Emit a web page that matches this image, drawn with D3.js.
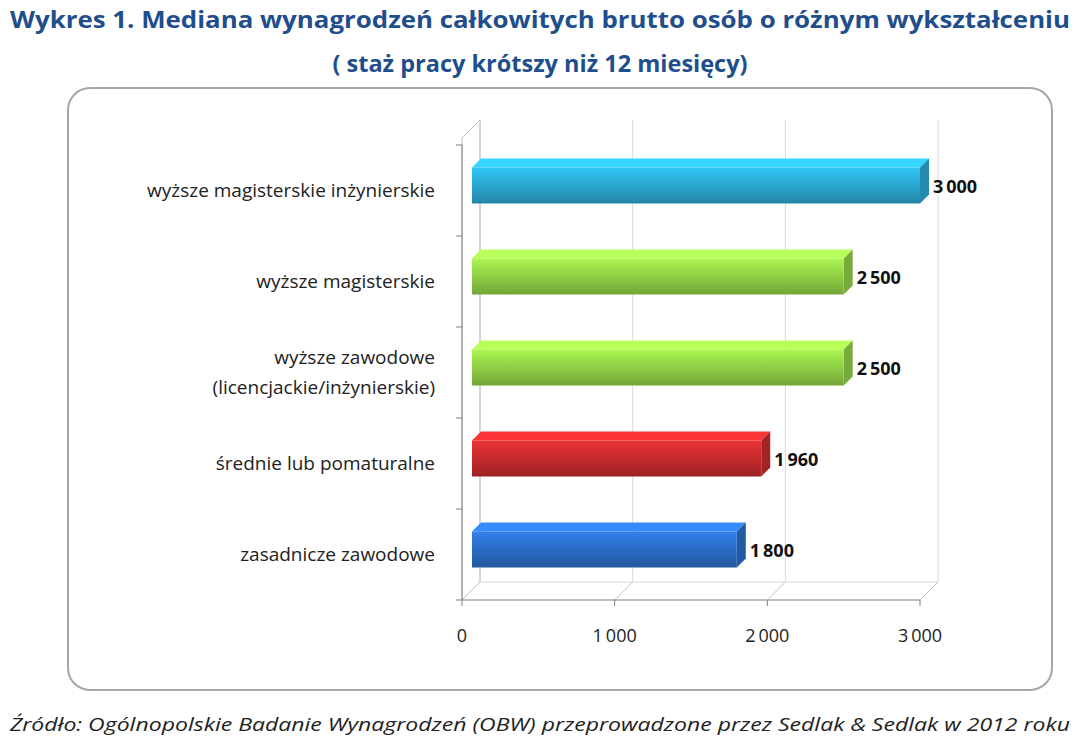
<!DOCTYPE html>
<html><head><meta charset="utf-8">
<script src="https://cdn.jsdelivr.net/npm/d3@7"></script>
<style>body{margin:0;background:#fff}</style>
</head><body>
<svg id="c" width="1080" height="746"></svg>
<script>
var categories = ['wyższe magisterskie inżynierskie', 'wyższe magisterskie', 'wyższe zawodowe\n(licencjackie/inżynierskie)', 'średnie lub pomaturalne', 'zasadnicze zawodowe'];
var values = [3000, 2500, 2500, 1960, 1800];
var colors = ['#2aa6cf', '#8fce45', '#c42a2c', '#2a6cc4'];
var barColor = [0, 1, 1, 2, 3];
var ticks = [0, 1000, 2000, 3000];
var fmt = function (v) { return v === 0 ? '0' : d3.format(',')(v).replace(',', '\u2009'); };

var svg = d3.select('#c');
var font = 'Open Sans, DejaVu Sans, sans-serif';
svg.append('text').attr('x', 540).attr('y', 28).attr('text-anchor', 'middle')
  .attr('font-family', font).attr('font-weight', 'bold').attr('font-size', 23.5).attr('fill', '#1f4e8c')
  .attr('textLength', 1060).attr('lengthAdjust', 'spacingAndGlyphs')
  .text('Wykres 1. Mediana wynagrodzeń całkowitych brutto osób o różnym wykształceniu');
svg.append('text').attr('x', 540).attr('y', 72).attr('text-anchor', 'middle')
  .attr('font-family', font).attr('font-weight', 'bold').attr('font-size', 23.5).attr('fill', '#1f4e8c')
  .text('( staż pracy krótszy niż 12 miesięcy)');

svg.append('rect').attr('x', 68).attr('y', 88).attr('width', 984).attr('height', 602)
  .attr('rx', 22).attr('fill', '#fff').attr('stroke', '#a6a6a6').attr('stroke-width', 2);

var x = d3.scaleLinear().domain([0, 3000]).range([462, 920]);
var dx = 18, dy = -18, floorY = 600;

var g = svg.append('g');
ticks.forEach(function (t) {
  g.append('line').attr('x1', x(t) + dx).attr('x2', x(t) + dx).attr('y1', 120).attr('y2', floorY + dy)
    .attr('stroke', '#d9d9d9');
  g.append('line').attr('x1', x(t)).attr('x2', x(t) + dx).attr('y1', floorY).attr('y2', floorY + dy)
    .attr('stroke', '#bfbfbf');
  g.append('line').attr('x1', x(t)).attr('x2', x(t)).attr('y1', floorY).attr('y2', floorY + 6)
    .attr('stroke', '#7f7f7f');
  g.append('text').attr('x', x(t)).attr('y', floorY + 42).attr('text-anchor', 'middle')
    .attr('font-family', font).attr('font-size', 18).attr('fill', '#222').text(fmt(t));
});
g.append('path').attr('d', 'M462,' + floorY + 'L462,' + (120 - dy) + 'L' + (462 + dx) + ',120L' + (462 + dx) + ',' + (floorY + dy) + 'Z')
  .attr('fill', 'none').attr('stroke', '#bfbfbf');
g.append('line').attr('x1', 462).attr('x2', 920).attr('y1', floorY).attr('y2', floorY).attr('stroke', '#7f7f7f');
g.append('line').attr('x1', 462 + dx).attr('x2', 920 + dx).attr('y1', floorY + dy).attr('y2', floorY + dy).attr('stroke', '#d9d9d9');
g.append('line').attr('x1', 462).attr('x2', 462).attr('y1', 145).attr('y2', floorY).attr('stroke', '#7f7f7f');
d3.range(categories.length + 1).forEach(function (i) {
  var yy = 145 + i * (floorY - 145) / categories.length;
  g.append('line').attr('x1', 456).attr('x2', 462).attr('y1', yy).attr('y2', yy).attr('stroke', '#7f7f7f');
});

var defs = svg.append('defs');
colors.forEach(function (c, i) {
  var gr = defs.append('linearGradient').attr('id', 'g' + i).attr('x1', 0).attr('x2', 0).attr('y1', 0).attr('y2', 1);
  gr.append('stop').attr('offset', '0').attr('stop-color', d3.color(c).brighter(0.5));
  gr.append('stop').attr('offset', '0.5').attr('stop-color', c);
  gr.append('stop').attr('offset', '1').attr('stop-color', d3.color(c).darker(0.6));
});

var bh = 36, d = 9;
values.forEach(function (v, i) {
  var c = colors[barColor[i]];
  var cy = 145 + (i + 0.5) * (floorY - 145) / categories.length;
  var y0 = cy - bh / 2 - 5, x0 = x(0) + 10, x1 = x(v);
  g.append('path').attr('d', 'M' + x0 + ',' + y0 + 'L' + (x0 + d) + ',' + (y0 - d) + 'L' + (x1 + d) + ',' + (y0 - d) + 'L' + x1 + ',' + y0 + 'Z')
    .attr('fill', d3.color(c).brighter(0.7));
  g.append('path').attr('d', 'M' + x1 + ',' + y0 + 'L' + (x1 + d) + ',' + (y0 - d) + 'L' + (x1 + d) + ',' + (y0 + bh - d) + 'L' + x1 + ',' + (y0 + bh) + 'Z')
    .attr('fill', d3.color(c).darker(0.5));
  g.append('rect').attr('x', x0).attr('y', y0).attr('width', x1 - x0).attr('height', bh).attr('fill', 'url(#g' + barColor[i] + ')');
  g.append('text').attr('x', x1 + d + 4).attr('y', cy + 2).attr('font-family', font).attr('font-weight', 'bold')
    .attr('font-size', 18).attr('fill', '#111').text(fmt(v));
  var lines = categories[i].split('\n');
  var t = g.append('text').attr('text-anchor', 'end').attr('font-family', font).attr('font-size', 19).attr('fill', '#222');
  lines.forEach(function (l, k) {
    t.append('tspan').attr('x', 435).attr('y', cy + 6 - (lines.length - 1) * 15 + k * 30).text(l);
  });
});

svg.append('text').attr('x', 540).attr('y', 731).attr('text-anchor', 'middle').attr('font-family', font)
  .attr('font-style', 'italic').attr('font-size', 19).attr('fill', '#222')
  .attr('textLength', 1060).attr('lengthAdjust', 'spacingAndGlyphs')
  .text('Źródło: Ogólnopolskie Badanie Wynagrodzeń (OBW) przeprowadzone przez Sedlak & Sedlak w 2012 roku');
</script>
</body></html>
